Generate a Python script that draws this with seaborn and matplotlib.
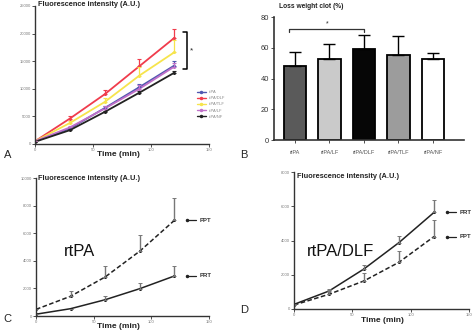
import numpy as np
import pandas as pd
import matplotlib
matplotlib.use("Agg")
import matplotlib.pyplot as plt
from matplotlib.lines import Line2D
import seaborn as sns

# ---------------- data ----------------
time_min = [0, 30, 60, 90, 120]

# Panel A
a_series = ["rtPA", "rtPA/DLF", "rtPA/TLF", "rtPA/LF", "rtPA/NF"]
a_rtpa = [500, 2800, 6500, 10300, 14200]
a_rtpa_sd = [100, 300, 400, 500, 800]
a_dlf = [500, 4600, 9000, 14100, 19200]
a_dlf_sd = [100, 400, 800, 1300, 1600]
a_tlf = [500, 3800, 7600, 12400, 16600]
a_tlf_sd = [100, 400, 800, 1500, 2200]
a_lf = [500, 3000, 6400, 10000, 14000]
a_lf_sd = [100, 300, 400, 600, 700]
a_nf = [400, 2500, 5800, 9300, 12900]
a_nf_sd = [50, 150, 200, 250, 250]
a_colors = ["#5058b0", "#f03c4c", "#f6e44c", "#c070c8", "#222222"]

# Panel B
b_groups = ["rtPA", "rtPA/LF", "rtPA/DLF", "rtPA/TLF", "rtPA/NF"]
b_mean = [48.3, 52.8, 59.1, 55.4, 52.8]
b_sd = [8.7, 9.6, 9.4, 12.4, 3.9]
b_colors = ["#5a5a5a", "#cacaca", "#060606", "#9c9c9c", "#ffffff"]

# Panel C (rtPA)
c_ppt = [480, 1430, 2830, 4700, 6930]
c_ppt_sd = [0, 370, 770, 1150, 1620]
c_prt = [130, 530, 1180, 1980, 2900]
c_prt_sd = [0, 0, 250, 440, 720]

# Panel D (rtPA/DLF)
d_prt = [270, 1050, 2340, 3880, 5640]
d_prt_sd = [0, 100, 240, 390, 700]
d_ppt = [230, 860, 1640, 2730, 4230]
d_ppt_sd = [0, 240, 450, 680, 980]

# ---------------- style ----------------
sns.set_style("ticks")
plt.rcParams["font.family"] = ["Liberation Sans", "DejaVu Sans"]

W, H = 474, 330
fig = plt.figure(figsize=(W / 100, H / 100), dpi=100)


def px_axes(left, top, right, bottom):
    return fig.add_axes([left / W, 1 - bottom / H, (right - left) / W, (bottom - top) / H])


def ftext(x, y, s, **kw):
    fig.text(x / W, 1 - y / H, s, **kw)


def style_axes(ax, lw=1.0):
    sns.despine(ax=ax)
    for sp in ["left", "bottom"]:
        ax.spines[sp].set_linewidth(lw)
        ax.spines[sp].set_color("#333333")
    ax.tick_params(length=2, width=0.6, pad=1, colors="#333333", labelsize=3.0,
                   labelcolor="#777777")


# ---------------- Panel A ----------------
axA = px_axes(35, 6, 209, 144)
a_vals = [a_rtpa, a_dlf, a_tlf, a_lf, a_nf]
a_sds = [a_rtpa_sd, a_dlf_sd, a_tlf_sd, a_lf_sd, a_nf_sd]
dfA = pd.DataFrame({
    "time": np.tile(time_min, len(a_series)),
    "value": np.concatenate(a_vals),
    "series": np.repeat(a_series, len(time_min)),
})
pal = dict(zip(a_series, a_colors))
sns.lineplot(data=dfA, x="time", y="value", hue="series", palette=pal, marker="o",
             markersize=2.2, markeredgewidth=0, linewidth=1.3, legend=False, ax=axA)
for vals, sds, col in zip(a_vals, a_sds, a_colors):
    axA.errorbar(time_min, vals, yerr=[np.zeros(len(sds)), sds], fmt="none",
                 ecolor=col, elinewidth=0.9, capsize=1.2, capthick=0.8)
axA.set_xlim(0, 150)
axA.set_ylim(0, 25000)
axA.set_xticks([0, 50, 100, 150])
axA.set_yticks([0, 5000, 10000, 15000, 20000, 25000])
axA.set_xlabel("")
axA.set_ylabel("")
style_axes(axA)
# significance bracket
axA.plot([128, 131, 131, 128], [20200, 20200, 13600, 13600], color="black", lw=1.1, clip_on=False)
axA.text(135, 16900, "*", fontsize=6, ha="center", va="center")
handles = [Line2D([0], [0], color=c, lw=1.0, marker="o", markersize=1.5) for c in a_colors]
axA.legend(handles, a_series, loc="upper left", bbox_to_anchor=(195 / W, 1 - 88 / H),
           bbox_transform=fig.transFigure, frameon=False, fontsize=2.9, handlelength=2.2,
           labelspacing=0.55, handletextpad=0.6, borderpad=0, labelcolor="#888888")
ftext(38, 5, "Fluorescence intensity (A.U.)", fontsize=5.3, fontweight="bold", va="center", color="#222222")
ftext(118, 155, "Time (min)", fontsize=6, fontweight="bold", ha="center", va="center", color="#222222")
ftext(4, 155, "A", fontsize=8, va="center")

# ---------------- Panel B ----------------
axB = px_axes(274, 17, 464, 140)
dfB = pd.DataFrame({"group": b_groups, "mean": b_mean})
sns.barplot(data=dfB, x="group", y="mean", hue="group", palette=dict(zip(b_groups, b_colors)),
            width=0.65, edgecolor="black", linewidth=1.3, legend=False, ax=axB)
axB.errorbar(range(len(b_groups)), b_mean, yerr=[np.zeros(len(b_sd)), b_sd], fmt="none",
             ecolor="black", elinewidth=1.0, capsize=4, capthick=1.0)
axB.set_xlim(-0.6, 4.9)
axB.set_ylim(0, 80)
axB.set_yticks([0, 20, 40, 60, 80])
axB.set_xlabel("")
axB.set_ylabel("")
style_axes(axB, lw=1.2)
axB.tick_params(axis="y", labelsize=5.4, labelcolor="#333333", length=2.5)
axB.tick_params(axis="x", labelsize=4.0, labelcolor="#555555", length=2.5, pad=5)
# bracket
axB.plot([-0.18, -0.18, 2.0, 2.0], [70.5, 72.3, 72.3, 70.5], color="#333333", lw=0.9, clip_on=False)
axB.text(0.95, 75.5, "*", fontsize=5, ha="center", va="center")
ftext(279, 6, "Loss weight clot (%)", fontsize=4.8, fontweight="bold", va="center", color="#222222")
ftext(240, 155, "B", fontsize=8, va="center")


def pair_panel(ax, ppt, ppt_sd, prt, prt_sd, ymax, yticks, label_order):
    df = pd.DataFrame({
        "time": time_min * 2,
        "value": list(ppt) + list(prt),
        "kind": ["PPT"] * len(time_min) + ["PRT"] * len(time_min),
    })
    sns.lineplot(data=df, x="time", y="value", style="kind", dashes={"PPT": (3, 1.6), "PRT": ""},
                 color="#222222", linewidth=1.1, marker="o", markersize=2.2, markeredgewidth=0,
                 legend=False, ax=ax)
    for vals, sds in [(ppt, ppt_sd), (prt, prt_sd)]:
        ax.errorbar(time_min, vals, yerr=[np.zeros(len(sds)), sds], fmt="none",
                    ecolor="#777777", elinewidth=1.0, capsize=1.2, capthick=0.7)
    ax.set_xlim(0, 150)
    ax.set_ylim(0, ymax)
    ax.set_xticks([0, 50, 100, 150])
    ax.set_yticks(yticks)
    ax.set_xlabel("")
    ax.set_ylabel("")
    style_axes(ax)
    for name, y in label_order:
        ax.plot([131, 139], [y, y], color="#222222", lw=0.9, clip_on=False)
        ax.plot([131], [y], "o", color="#222222", markersize=1.5, clip_on=False)
        ax.text(142, y, name, fontsize=4.3, fontweight="bold", va="center", color="#333333")


# ---------------- Panel C ----------------
axC = px_axes(36, 178, 209, 316)
pair_panel(axC, c_ppt, c_ppt_sd, c_prt, c_prt_sd, 10000,
           [0, 2000, 4000, 6000, 8000, 10000], [("PPT", c_ppt[-1]), ("PRT", c_prt[-1])])
ftext(38, 178, "Fluorescence intensity (A.U.)", fontsize=5.3, fontweight="bold", va="center", color="#222222")
ftext(64, 252, "rtPA", fontsize=12, va="center", color="#111111")
ftext(118, 326, "Time (min)", fontsize=6, fontweight="bold", ha="center", va="center", color="#222222")
ftext(3, 319, "C", fontsize=8, va="center")

# ---------------- Panel D ----------------
axD = px_axes(294, 172, 469, 309)
pair_panel(axD, d_ppt, d_ppt_sd, d_prt, d_prt_sd, 8000,
           [0, 2000, 4000, 6000, 8000], [("PRT", d_prt[-1]), ("PPT", d_ppt[-1])])
ftext(297, 177, "Fluorescence intensity (A.U.)", fontsize=5.3, fontweight="bold", va="center", color="#222222")
ftext(307, 251, "rtPA/DLF", fontsize=12, va="center", color="#111111")
ftext(382, 321, "Time (min)", fontsize=6, fontweight="bold", ha="center", va="center", color="#222222")
ftext(240, 310, "D", fontsize=8, va="center")

fig.savefig("out.png", dpi=100)
